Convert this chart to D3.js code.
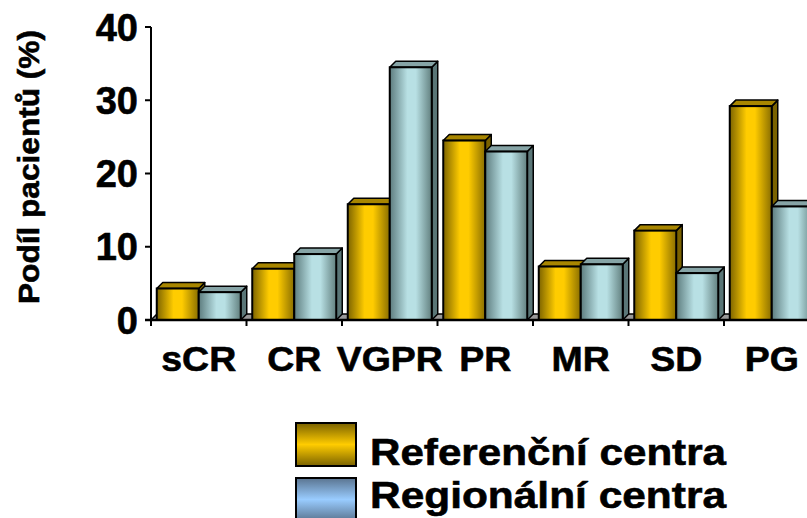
<!DOCTYPE html>
<html><head><meta charset="utf-8">
<script src="https://cdn.jsdelivr.net/npm/d3@7/dist/d3.min.js"></script>
<style>
html,body{margin:0;padding:0;background:#fff;overflow:hidden;}
svg{display:block;font-family:"Liberation Sans",Arial,sans-serif;font-weight:bold;}
svg text{stroke:#000;stroke-width:0.6px;}
</style></head>
<body>
<svg id="chart" width="807" height="518"></svg>
<script>
const categories = ["sCR","CR","VGPR","PR","MR","SD","PG"];
const seriesNames = ["Referenční centra","Regionální centra"];
const referencni = [4.3, 7.0, 15.8, 24.5, 7.3, 12.2, 29.2];
const regionalni = [3.8, 9.0, 34.5, 23.0, 7.6, 6.4, 15.5];
const yTicks = [0, 10, 20, 30, 40];
const yTitle = "Podíl pacientů (%)";

const svg = d3.select("#chart");
const defs = svg.append("defs");

function hGrad(id, stops){
  const g = defs.append("linearGradient").attr("id", id).attr("x1","0%").attr("x2","100%").attr("y1","0%").attr("y2","0%");
  stops.forEach(s => g.append("stop").attr("offset", s[0]).attr("stop-color", s[1]));
}
function vGrad(id, stops){
  const g = defs.append("linearGradient").attr("id", id).attr("x1","0%").attr("x2","0%").attr("y1","0%").attr("y2","100%");
  stops.forEach(s => g.append("stop").attr("offset", s[0]).attr("stop-color", s[1]));
}
hGrad("goldFront", [["0%","#7d6400"],["40%","#ffcc00"],["60%","#ffcc00"],["100%","#8a6e00"]]);
hGrad("blueFront", [["0%","#5d7c7e"],["42%","#b8e0e4"],["62%","#b8e0e4"],["100%","#62807f"]]);
vGrad("goldLegend", [["0%","#7a6200"],["50%","#ffcc00"],["100%","#7a6200"]]);
vGrad("blueLegend", [["0%","#5a7490"],["50%","#99ccff"],["100%","#5a7490"]]);

const styles = [
  {front:"url(#goldFront)", top:"#a88600", side:"#7a6200", legend:"url(#goldLegend)"},
  {front:"url(#blueFront)", top:"#86a4a6", side:"#5a7677", legend:"url(#blueLegend)"}
];

const x0 = 151, step = 95.5;
const x = d3.scaleBand().domain(categories).range([x0, x0 + step*categories.length]).paddingInner(0).paddingOuter(0);
const x1 = d3.scaleBand().domain(seriesNames).range([0, x.bandwidth()]).paddingInner(0).paddingOuter(0.137);
const y = d3.scaleLinear().domain([0, 40]).range([320, 27]);

const dx = 6, dy = -6;

// floor
const xr = x.range();
svg.append("polygon")
  .attr("points", [[xr[0],y(0)],[xr[0]+dx,y(0)+dy],[xr[1]+dx,y(0)+dy],[xr[1],y(0)]].map(p=>p.join(",")).join(" "))
  .attr("fill","#999").attr("stroke","#000").attr("stroke-width",1.5);

// bars
const data = categories.map((c,i)=>({cat:c, vals:[referencni[i], regionalni[i]]}));
const groups = svg.append("g").selectAll("g").data(data).join("g");
groups.each(function(d){
  const g = d3.select(this);
  d.vals.forEach((v, si) => {
    const bx = x(d.cat) + x1(seriesNames[si]);
    const bw = x1.bandwidth();
    const ty = y(v), by = y(0);
    const st = styles[si];
    g.append("polygon")
      .attr("points", [[bx+bw,by],[bx+bw,ty],[bx+bw+dx,ty+dy],[bx+bw+dx,by+dy]].map(p=>p.join(",")).join(" "))
      .attr("fill", st.side).attr("stroke","#000").attr("stroke-width",1.5).attr("stroke-linejoin","round");
    g.append("polygon")
      .attr("points", [[bx,ty],[bx+dx,ty+dy],[bx+bw+dx,ty+dy],[bx+bw,ty]].map(p=>p.join(",")).join(" "))
      .attr("fill", st.top).attr("stroke","#000").attr("stroke-width",1.5).attr("stroke-linejoin","round");
    g.append("rect")
      .attr("x", bx).attr("y", ty).attr("width", bw).attr("height", by - ty)
      .attr("fill", st.front).attr("stroke","#000").attr("stroke-width",2);
  });
});

// axes
const yAxis = svg.append("g");
yAxis.append("line").attr("x1",x0).attr("x2",x0).attr("y1",y(40)).attr("y2",y(0)+6).attr("stroke","#000").attr("stroke-width",2);
yAxis.selectAll("line.tick").data(yTicks).join("line").attr("class","tick")
  .attr("x1",x0-6).attr("x2",x0).attr("y1",d=>y(d)).attr("y2",d=>y(d)).attr("stroke","#000").attr("stroke-width",2);
yAxis.selectAll("text").data(yTicks).join("text")
  .attr("x",138).attr("y",d=>y(d)).attr("dy","0.36em").attr("text-anchor","end")
  .attr("font-size",38).text(d=>d);

const xAxis = svg.append("g");
xAxis.append("line").attr("x1",x0-6).attr("x2",xr[1]).attr("y1",y(0)).attr("y2",y(0)).attr("stroke","#000").attr("stroke-width",2.5);
xAxis.selectAll("line.tick").data(categories).join("line").attr("class","tick")
  .attr("x1",d=>x(d)).attr("x2",d=>x(d)).attr("y1",y(0)).attr("y2",y(0)+6).attr("stroke","#000").attr("stroke-width",2);
const xl = xAxis.selectAll("text").data(categories).join("text")
  .attr("x",d=>x(d)+x.bandwidth()/2).attr("y",371).attr("text-anchor","middle")
  .attr("font-size",35).text(d=>d);
xl.each(function(){ const L=this.getComputedTextLength(); d3.select(this).attr("textLength",L*1.07).attr("lengthAdjust","spacingAndGlyphs"); });

// y title
svg.append("text").attr("transform","translate(39,167) rotate(-90)").attr("text-anchor","middle")
  .attr("font-size",30).attr("textLength",274).attr("lengthAdjust","spacingAndGlyphs").text(yTitle);

// legend
const leg = svg.append("g");
const legY = [423, 478];
const legBase = [465, 508];
seriesNames.forEach((n,i)=>{
  leg.append("rect").attr("x",296).attr("y",legY[i]).attr("width",60).attr("height",43)
    .attr("fill",styles[i].legend).attr("stroke","#000").attr("stroke-width",2);
  leg.append("text").attr("x",370).attr("y",legBase[i]).attr("font-size",37)
    .attr("textLength",356).attr("lengthAdjust","spacingAndGlyphs").text(n);
});
</script>
</body></html>
